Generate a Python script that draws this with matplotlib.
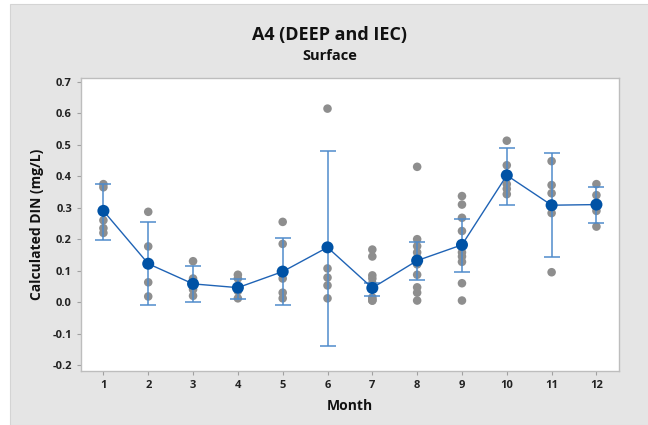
import matplotlib.pyplot as plt
from matplotlib.patches import Rectangle
import numpy as np

################################################################################
# Data                                            #
################################################################################
months = [1, 2, 3, 4, 5, 6, 7, 8, 9, 10, 11, 12]

# individual samples (grey dots) for each month
samples = [
    [0.375, 0.365, 0.26, 0.235, 0.22],
    [0.287, 0.177, 0.063, 0.018],
    [0.13, 0.075, 0.065, 0.04, 0.02],
    [0.087, 0.075, 0.035, 0.012],
    [0.255, 0.185, 0.075, 0.03, 0.012],
    [0.615, 0.107, 0.078, 0.053, 0.012],
    [0.167, 0.145, 0.085, 0.075, 0.06, 0.015, 0.01, 0.005, 0.005],
    [0.43, 0.2, 0.178, 0.158, 0.14, 0.12, 0.087, 0.047, 0.03, 0.005],
    [0.337, 0.31, 0.268, 0.226, 0.158, 0.145, 0.128, 0.06, 0.005],
    [0.513, 0.435, 0.375, 0.36, 0.343],
    [0.448, 0.372, 0.346, 0.283, 0.095],
    [0.375, 0.34, 0.29, 0.24],
]

means = [0.29, 0.122, 0.058, 0.046, 0.097, 0.174, 0.045, 0.132, 0.182, 0.403, 0.308, 0.31]
ci_low = [0.197, -0.01, 0.0, 0.01, -0.01, -0.14, 0.018, 0.07, 0.095, 0.31, 0.143, 0.25]
ci_high = [0.375, 0.255, 0.115, 0.075, 0.205, 0.48, 0.062, 0.19, 0.265, 0.49, 0.473, 0.365]

yticks = [-0.2, -0.1, 0.0, 0.1, 0.2, 0.3, 0.4, 0.5, 0.6, 0.7]

################################################################################
# Figure setup                                                                 #
################################################################################
plt.rcParams['font.family'] = ['Open Sans', 'DejaVu Sans']

fig = plt.figure(figsize=(6.48, 4.25), dpi=100)
fig.patch.set_facecolor('white')
bg = Rectangle((10 / 648, 0), 1, 1 - 4 / 425, transform=fig.transFigure,
               facecolor='#E5E5E5', edgecolor='#D4D4D4', lw=0.8, zorder=-10)
fig.patches.append(bg)

ax = fig.add_axes([0.125, 0.127, 0.83, 0.69])
ax.set_zorder(1)
ax.set_facecolor('white')

# grey sample dots
for m, vals in zip(months, samples):
    ax.scatter([m] * len(vals), vals, s=38, color='#8E8E8E', edgecolors='none', zorder=2)

# error bars (interval of the mean)
err = [np.array(means) - np.array(ci_low), np.array(ci_high) - np.array(means)]
ax.errorbar(months, means, yerr=err, fmt='none', ecolor='#4F8BCB', elinewidth=1.1,
            capsize=5.5, capthick=1.1, zorder=3)

# mean connect line + markers
ax.plot(months, means, color='#1F63B5', lw=1.0, zorder=4)
ax.scatter(months, means, s=75, color='#0052A5', edgecolors='none', zorder=5)

ax.set_xlim(0.5, 12.5)
ax.set_ylim(-0.219, 0.713)
ax.set_xticks(months)
ax.set_yticks(yticks)
ax.set_yticklabels(['%.1f' % v for v in yticks])

for s in ax.spines.values():
    s.set_color('#BDBDBD')
    s.set_linewidth(1.0)
ax.tick_params(axis='both', colors='#A0A0A0', labelcolor='#222222', labelsize=8,
               length=3, width=0.8, direction='out')
for lbl in ax.get_xticklabels() + ax.get_yticklabels():
    lbl.set_fontweight('bold')

ax.set_xlabel('Month', fontsize=10, fontweight='bold', color='#111111', labelpad=6)
ax.set_ylabel('Calculated DIN (mg/L)', fontsize=10, fontweight='bold', color='#111111', labelpad=6)

fig.text(0.509, 0.917, 'A4 (DEEP and IEC)', ha='center', va='center', fontsize=13,
         fontweight='bold', color='#111111')
fig.text(0.509, 0.868, 'Surface', ha='center', va='center', fontsize=10.5,
         fontweight='bold', color='#111111')

fig.savefig('out.png', dpi=100, facecolor=fig.get_facecolor())
